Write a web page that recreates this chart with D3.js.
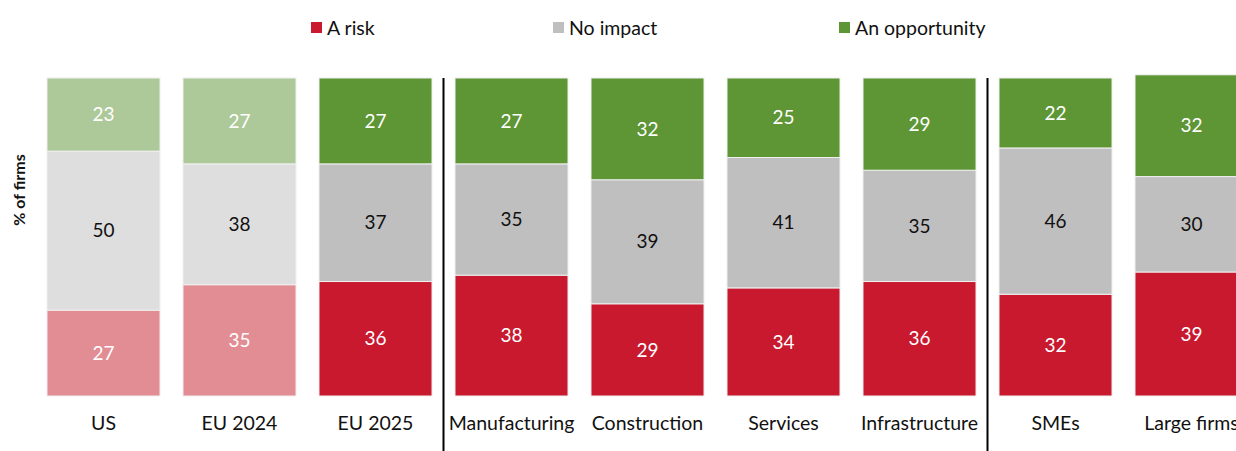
<!DOCTYPE html>
<html>
<head>
<meta charset="utf-8">
<script src="https://cdn.jsdelivr.net/npm/d3@7"></script>
<style>
  html, body { margin: 0; padding: 0; background: #ffffff; }
  svg { display: block; }
  text { font-family: Lato, "Open Sans", sans-serif; }
</style>
</head>
<body>
<svg id="chart" width="1236" height="451"></svg>
<script>
const categories = ["US", "EU 2024", "EU 2025", "Manufacturing", "Construction", "Services", "Infrastructure", "SMEs", "Large firms"];
const seriesNames = ["A risk", "No impact", "An opportunity"];
const riskValues = [27, 35, 36, 38, 29, 34, 36, 32, 39];
const noImpactValues = [50, 38, 37, 35, 39, 41, 35, 46, 30];
const opportunityValues = [23, 27, 27, 27, 32, 25, 29, 22, 32];
const lightCategories = ["US", "EU 2024"];
const separatorsAfter = ["EU 2025", "Infrastructure"];
const yDomain = [0, 100];

const colors = {
  "A risk": "#C8192E",
  "No impact": "#BFBFBF",
  "An opportunity": "#5E9535"
};
const lightColors = {
  "A risk": "#E28C94",
  "No impact": "#DEDEDE",
  "An opportunity": "#AEC999"
};
const labelColors = {
  "A risk": "#ffffff",
  "No impact": "#111111",
  "An opportunity": "#ffffff"
};

const svg = d3.select("#chart");

const x = d3.scaleBand()
  .domain(categories)
  .range([35.5, 35.5 + 9 * 136])
  .paddingInner(0.169)
  .paddingOuter(0.0845);

const y = d3.scaleLinear().domain(yDomain).range([396, 78]);

const table = categories.map((c, i) => ({
  category: c,
  "A risk": riskValues[i],
  "No impact": noImpactValues[i],
  "An opportunity": opportunityValues[i]
}));

const stack = d3.stack().keys(seriesNames);
const stacked = stack(table);

const g = svg.append("g");

stacked.forEach(layer => {
  const key = layer.key;
  const lg = g.append("g");
  lg.selectAll("rect")
    .data(layer)
    .join("rect")
    .attr("x", d => x(d.data.category))
    .attr("y", d => y(d[1]))
    .attr("width", x.bandwidth())
    .attr("height", d => y(d[0]) - y(d[1]))
    .attr("fill", d => lightCategories.includes(d.data.category) ? lightColors[key] : colors[key])
    .attr("stroke", "#F0F0F0")
    .attr("stroke-width", 1);
  lg.selectAll("text")
    .data(layer)
    .join("text")
    .attr("x", d => x(d.data.category) + x.bandwidth() / 2)
    .attr("y", d => (y(d[0]) + y(d[1])) / 2)
    .attr("dy", "0.35em")
    .attr("text-anchor", "middle")
    .attr("font-size", 19)
    .attr("fill", labelColors[key])
    .text(d => d[1] - d[0]);
});

// separators
separatorsAfter.forEach(c => {
  const i = categories.indexOf(c);
  const xs = (x(categories[i]) + x.bandwidth() + x(categories[i + 1])) / 2;
  svg.append("line")
    .attr("x1", xs).attr("x2", xs)
    .attr("y1", 78).attr("y2", 451)
    .attr("stroke", "#000")
    .attr("stroke-width", 2);
});

// category axis
const xAxis = d3.axisBottom(x).tickSize(0).tickPadding(0);
const ax = svg.append("g").attr("transform", "translate(0,396)").call(xAxis);
ax.select(".domain").remove();
ax.selectAll("text")
  .attr("y", 27)
  .attr("dy", "0.35em")
  .attr("font-size", 19.5)
  .attr("font-family", "Lato, 'Open Sans', sans-serif")
  .attr("fill", "#111");

// y-axis title
svg.append("text")
  .attr("transform", "translate(19,190) rotate(-90)")
  .attr("text-anchor", "middle")
  .attr("dy", "0.35em")
  .attr("font-size", 16)
  .attr("font-weight", "bold")
  .attr("fill", "#111")
  .text("% of firms");

// legend
const legendX = [311, 553, 839];
const legend = svg.append("g");
seriesNames.forEach((s, i) => {
  legend.append("rect")
    .attr("x", legendX[i]).attr("y", 22)
    .attr("width", 11).attr("height", 11)
    .attr("fill", colors[s]);
  legend.append("text")
    .attr("x", legendX[i] + 16).attr("y", 28)
    .attr("dy", "0.35em")
    .attr("font-size", 19.5)
    .attr("fill", "#111")
    .text(s);
});
</script>
</body>
</html>
